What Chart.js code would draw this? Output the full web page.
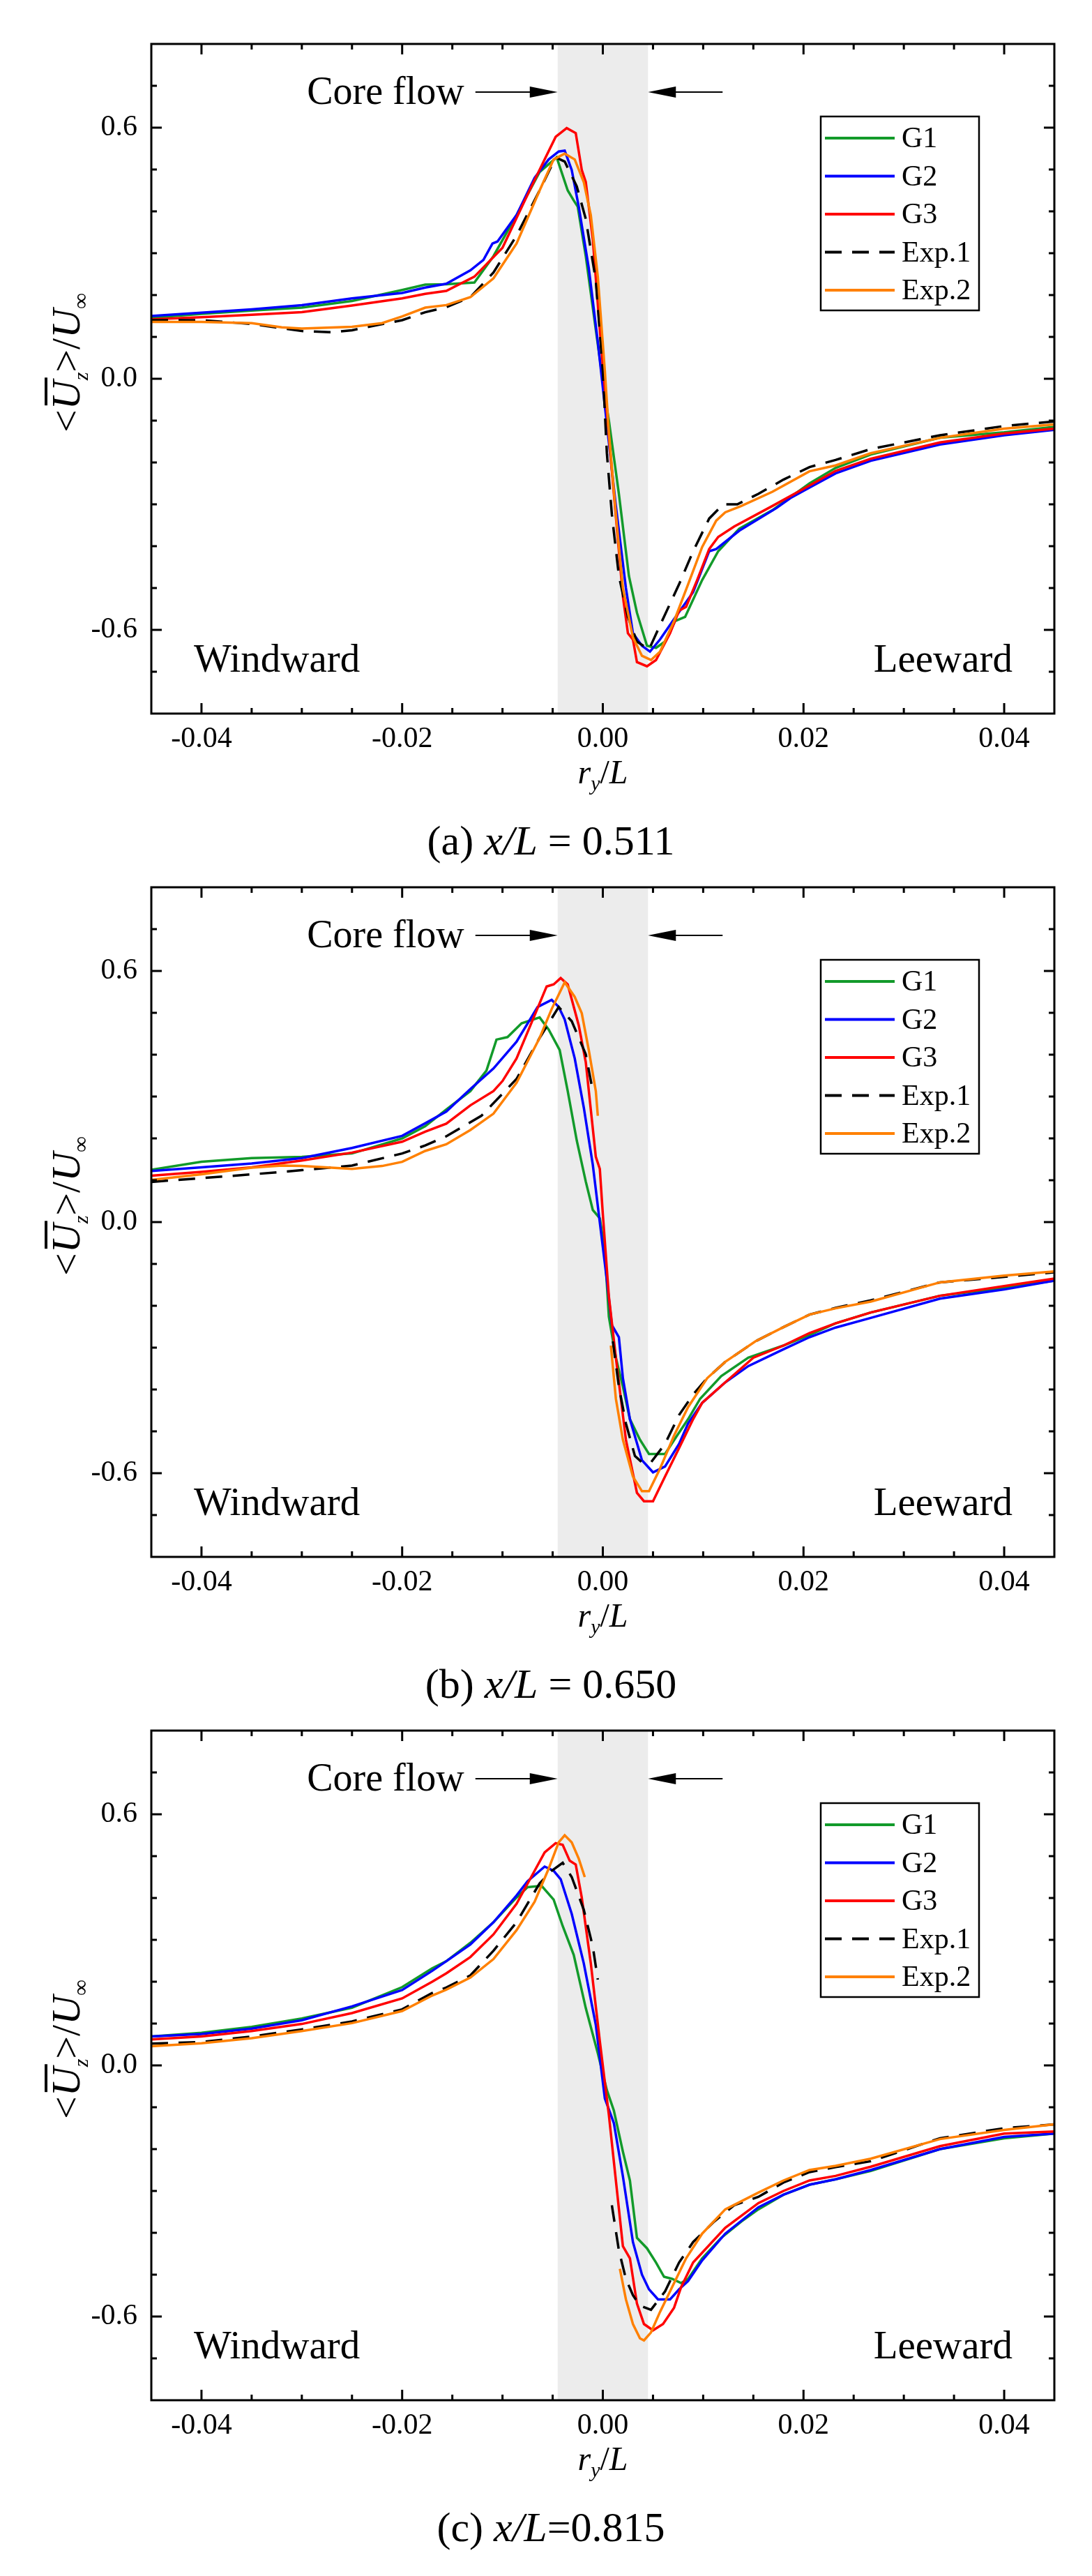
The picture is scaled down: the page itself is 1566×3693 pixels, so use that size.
<!DOCTYPE html>
<html>
<head>
<meta charset="utf-8">
<script src="https://cdn.jsdelivr.net/npm/chart.js@4.4.1/dist/chart.umd.min.js"></script>
<style>
  html, body { margin: 0; padding: 0; background: #fff; }
  #page { position: relative; width: 1566px; height: 3693px; overflow: hidden; }
  canvas { position: absolute; left: 0; }
</style>
</head>
<body>
<div id="page">
  <canvas id="chartA" width="1566" height="1275" style="top:0px"></canvas>
  <canvas id="chartB" width="1566" height="1275" style="top:1209px"></canvas>
  <canvas id="chartC" width="1566" height="1275" style="top:2418px"></canvas>
</div>
<script>
// ---- data: [r_y/L, <Uz>/Uinf]; null breaks a line ----
const aG1 = [[-0.045,0.146],[-0.04,0.155],[-0.035,0.163],[-0.03,0.170],[-0.025,0.186],[-0.02,0.212],[-0.0177,0.225],[-0.0156,0.226],[-0.0128,0.230],[-0.0109,0.293],[-0.0086,0.391],[-0.0063,0.494],[-0.0046,0.529],[-0.0035,0.450],[-0.0029,0.426],[-0.0025,0.411],[-0.0017,0.293],[-0.0007,0.117],[0.0002,-0.040],[0.0006,-0.099],[0.0016,-0.275],[0.0026,-0.471],[0.0034,-0.559],[0.0044,-0.638],[0.0053,-0.643],[0.0062,-0.628],[0.0072,-0.579],[0.0082,-0.569],[0.0099,-0.481],[0.0115,-0.412],[0.0136,-0.358],[0.0169,-0.314],[0.0206,-0.250],[0.0232,-0.213],[0.0267,-0.181],[0.0336,-0.141],[0.04,-0.128],[0.045,-0.115]];
const aG2 = [[-0.045,0.150],[-0.04,0.158],[-0.035,0.166],[-0.03,0.176],[-0.025,0.192],[-0.02,0.205],[-0.0177,0.218],[-0.0156,0.227],[-0.0132,0.259],[-0.0119,0.284],[-0.011,0.323],[-0.0105,0.328],[-0.0086,0.391],[-0.0068,0.480],[-0.0054,0.524],[-0.0044,0.543],[-0.0038,0.545],[-0.0031,0.499],[-0.0024,0.411],[-0.0014,0.264],[-0.0005,0.088],[0.0004,-0.108],[0.0013,-0.304],[0.0023,-0.500],[0.003,-0.608],[0.0039,-0.638],[0.0047,-0.652],[0.0057,-0.623],[0.0071,-0.574],[0.009,-0.510],[0.0106,-0.412],[0.0113,-0.407],[0.0136,-0.363],[0.0173,-0.309],[0.0187,-0.285],[0.0206,-0.260],[0.0232,-0.226],[0.0267,-0.196],[0.0336,-0.157],[0.04,-0.135],[0.045,-0.122]];
const aG3 = [[-0.045,0.142],[-0.04,0.147],[-0.035,0.153],[-0.03,0.159],[-0.025,0.175],[-0.02,0.192],[-0.0177,0.203],[-0.0156,0.210],[-0.0128,0.244],[-0.01,0.313],[-0.0075,0.440],[-0.0058,0.524],[-0.0047,0.578],[-0.0036,0.599],[-0.0027,0.587],[-0.0021,0.499],[-0.0017,0.470],[-0.001,0.333],[-0.0003,0.117],[0.0004,-0.079],[0.0011,-0.275],[0.002,-0.520],[0.0025,-0.608],[0.003,-0.623],[0.0034,-0.677],[0.0044,-0.687],[0.0053,-0.672],[0.0067,-0.608],[0.0076,-0.554],[0.0083,-0.545],[0.0094,-0.481],[0.0106,-0.407],[0.0115,-0.378],[0.0131,-0.353],[0.0169,-0.304],[0.0206,-0.255],[0.0232,-0.220],[0.0267,-0.191],[0.0336,-0.152],[0.04,-0.131],[0.045,-0.119]];
const aE1 = [[-0.045,0.140],[-0.04,0.140],[-0.035,0.131],[-0.03,0.114],[-0.027,0.111],[-0.025,0.116],[-0.02,0.140],[-0.0177,0.159],[-0.0156,0.171],[-0.0132,0.195],[-0.0109,0.254],[-0.0086,0.342],[-0.0063,0.450],[-0.0047,0.529],[-0.0038,0.519],[-0.0026,0.460],[-0.0017,0.382],[-0.0007,0.235],[0,0.019],[0.0004,-0.177],[0.0009,-0.324],[0.0016,-0.471],[0.0025,-0.569],[0.0034,-0.628],[0.0046,-0.647],[0.0057,-0.589],[0.0076,-0.491],[0.009,-0.412],[0.0106,-0.334],[0.012,-0.300],[0.0134,-0.300],[0.0155,-0.275],[0.018,-0.241],[0.0206,-0.211],[0.0232,-0.194],[0.0267,-0.168],[0.0336,-0.135],[0.04,-0.113],[0.045,-0.102]];
const aE2 = [[-0.045,0.136],[-0.04,0.136],[-0.035,0.133],[-0.032,0.123],[-0.03,0.120],[-0.025,0.124],[-0.022,0.133],[-0.02,0.149],[-0.0177,0.170],[-0.0156,0.176],[-0.0132,0.195],[-0.0109,0.240],[-0.0086,0.323],[-0.0063,0.450],[-0.0049,0.524],[-0.0038,0.538],[-0.0028,0.524],[-0.0019,0.470],[-0.0012,0.391],[-0.0005,0.244],[0.0002,0.019],[0.0006,-0.128],[0.0013,-0.324],[0.002,-0.500],[0.003,-0.618],[0.0039,-0.662],[0.0048,-0.672],[0.0057,-0.652],[0.0071,-0.579],[0.0085,-0.491],[0.0099,-0.402],[0.0113,-0.339],[0.0122,-0.319],[0.0138,-0.304],[0.0169,-0.270],[0.0206,-0.221],[0.0232,-0.207],[0.0267,-0.178],[0.0336,-0.141],[0.04,-0.119],[0.045,-0.109]];

const bG1 = [[-0.045,0.125],[-0.04,0.144],[-0.035,0.153],[-0.03,0.156],[-0.025,0.164],[-0.02,0.200],[-0.0177,0.229],[-0.0156,0.269],[-0.0132,0.313],[-0.0116,0.362],[-0.0106,0.436],[-0.0095,0.442],[-0.0081,0.475],[-0.0063,0.489],[-0.0054,0.460],[-0.0043,0.411],[-0.0035,0.313],[-0.0026,0.195],[-0.0017,0.097],[-0.001,0.029],[-0.0003,0.009],[0.0002,-0.069],[0.0006,-0.226],[0.0013,-0.324],[0.002,-0.393],[0.0027,-0.471],[0.0037,-0.520],[0.0046,-0.554],[0.0062,-0.554],[0.0074,-0.510],[0.0085,-0.471],[0.0097,-0.422],[0.0118,-0.368],[0.0145,-0.324],[0.018,-0.295],[0.0206,-0.270],[0.0232,-0.242],[0.0267,-0.216],[0.0336,-0.176],[0.04,-0.157],[0.045,-0.140]];
const bG2 = [[-0.045,0.122],[-0.04,0.131],[-0.035,0.140],[-0.03,0.153],[-0.025,0.177],[-0.02,0.206],[-0.0177,0.236],[-0.0156,0.264],[-0.0132,0.318],[-0.0109,0.367],[-0.0086,0.431],[-0.0065,0.514],[-0.0051,0.531],[-0.0044,0.514],[-0.0038,0.484],[-0.0028,0.391],[-0.0019,0.274],[-0.001,0.137],[-0.0003,-0.001],[0.0004,-0.138],[0.0009,-0.246],[0.0016,-0.275],[0.002,-0.373],[0.0027,-0.471],[0.0039,-0.569],[0.005,-0.598],[0.0062,-0.584],[0.0076,-0.530],[0.0085,-0.481],[0.0099,-0.432],[0.0122,-0.383],[0.0145,-0.344],[0.018,-0.304],[0.0206,-0.275],[0.0232,-0.252],[0.0267,-0.229],[0.0336,-0.183],[0.04,-0.161],[0.045,-0.140]];
const bG3 = [[-0.045,0.111],[-0.04,0.120],[-0.035,0.131],[-0.03,0.147],[-0.025,0.166],[-0.02,0.192],[-0.0177,0.216],[-0.0156,0.235],[-0.0132,0.279],[-0.0109,0.313],[-0.01,0.337],[-0.0086,0.391],[-0.0068,0.494],[-0.0056,0.563],[-0.0049,0.568],[-0.0042,0.583],[-0.0035,0.568],[-0.0024,0.470],[-0.0017,0.382],[-0.0007,0.156],[-0.0003,0.127],[0,0.019],[0.0006,-0.177],[0.0013,-0.324],[0.0023,-0.520],[0.0034,-0.647],[0.0041,-0.667],[0.005,-0.667],[0.0062,-0.608],[0.0076,-0.540],[0.009,-0.471],[0.0099,-0.432],[0.0122,-0.383],[0.015,-0.324],[0.018,-0.295],[0.0206,-0.265],[0.0232,-0.242],[0.0267,-0.216],[0.0336,-0.176],[0.04,-0.153],[0.045,-0.135]];
const bE1 = [[-0.045,0.096],[-0.04,0.105],[-0.035,0.114],[-0.03,0.124],[-0.025,0.135],[-0.02,0.164],[-0.0177,0.183],[-0.0156,0.205],[-0.0121,0.254],[-0.0086,0.342],[-0.0063,0.440],[-0.0044,0.514],[-0.0031,0.480],[-0.0017,0.401],[-0.001,0.313],[0,null],[0.001,-0.285],[0.0016,-0.393],[0.0023,-0.481],[0.0032,-0.559],[0.0039,-0.574],[0.0048,-0.574],[0.0062,-0.530],[0.0076,-0.461],[0.009,-0.412],[0.0104,-0.373],[0.0122,-0.334],[0.0152,-0.285],[0.018,-0.251],[0.0206,-0.221],[0.0232,-0.205],[0.0267,-0.187],[0.0336,-0.144],[0.04,-0.131],[0.045,-0.120]];
const bE2 = [[-0.045,0.101],[-0.04,0.114],[-0.035,0.130],[-0.032,0.135],[-0.03,0.134],[-0.025,0.127],[-0.022,0.134],[-0.02,0.144],[-0.0177,0.170],[-0.0156,0.186],[-0.0132,0.220],[-0.0109,0.259],[-0.0086,0.333],[-0.0063,0.440],[-0.0051,0.509],[-0.0038,0.573],[-0.0028,0.538],[-0.0021,0.499],[-0.0014,0.411],[-0.0007,0.313],[-0.0005,0.254],[0.0001,null],[0.0008,-0.295],[0.0013,-0.422],[0.002,-0.520],[0.003,-0.608],[0.0039,-0.643],[0.0046,-0.643],[0.0057,-0.589],[0.0071,-0.510],[0.0085,-0.442],[0.0104,-0.373],[0.0122,-0.334],[0.0152,-0.285],[0.018,-0.251],[0.0206,-0.221],[0.0232,-0.206],[0.0267,-0.190],[0.0336,-0.144],[0.04,-0.128],[0.045,-0.118]];

const cG1 = [[-0.045,0.069],[-0.04,0.078],[-0.035,0.092],[-0.03,0.112],[-0.025,0.138],[-0.02,0.187],[-0.017,0.232],[-0.0156,0.249],[-0.0132,0.293],[-0.0109,0.342],[-0.0086,0.401],[-0.0075,0.426],[-0.0061,0.429],[-0.0049,0.396],[-0.004,0.333],[-0.0029,0.264],[-0.0017,0.137],[-0.0005,0.029],[0.0004,-0.059],[0.0011,-0.108],[0.002,-0.206],[0.0027,-0.275],[0.0034,-0.412],[0.0044,-0.437],[0.0053,-0.471],[0.0061,-0.505],[0.0069,-0.510],[0.0078,-0.520],[0.0085,-0.510],[0.0099,-0.461],[0.0118,-0.412],[0.0138,-0.373],[0.0155,-0.344],[0.018,-0.309],[0.0206,-0.285],[0.0232,-0.272],[0.0267,-0.252],[0.0336,-0.200],[0.04,-0.174],[0.045,-0.163]];
const cG2 = [[-0.045,0.069],[-0.04,0.075],[-0.035,0.088],[-0.03,0.108],[-0.025,0.141],[-0.02,0.180],[-0.017,0.226],[-0.0156,0.249],[-0.0132,0.289],[-0.0109,0.342],[-0.0086,0.406],[-0.0075,0.440],[-0.0058,0.475],[-0.0049,0.465],[-0.0042,0.445],[-0.0031,0.362],[-0.0019,0.244],[-0.0007,0.097],[0.0002,-0.079],[0.0011,-0.138],[0.002,-0.265],[0.003,-0.422],[0.0039,-0.500],[0.0046,-0.535],[0.0055,-0.559],[0.0067,-0.559],[0.0076,-0.535],[0.0085,-0.515],[0.0099,-0.466],[0.0122,-0.402],[0.0155,-0.339],[0.018,-0.309],[0.0206,-0.285],[0.0232,-0.272],[0.0267,-0.250],[0.0336,-0.200],[0.04,-0.171],[0.045,-0.163]];
const cG3 = [[-0.045,0.062],[-0.04,0.069],[-0.035,0.082],[-0.03,0.099],[-0.025,0.125],[-0.02,0.160],[-0.017,0.200],[-0.0156,0.220],[-0.0132,0.259],[-0.0109,0.313],[-0.0086,0.386],[-0.0068,0.465],[-0.0058,0.509],[-0.0047,0.531],[-0.004,0.527],[-0.0033,0.489],[-0.0027,0.480],[-0.0021,0.401],[-0.0012,0.244],[-0.0003,0.058],[0.0006,-0.118],[0.0013,-0.275],[0.002,-0.432],[0.0027,-0.461],[0.0034,-0.569],[0.0041,-0.618],[0.005,-0.633],[0.006,-0.618],[0.0071,-0.579],[0.0078,-0.530],[0.009,-0.471],[0.0122,-0.388],[0.0155,-0.329],[0.018,-0.300],[0.0206,-0.275],[0.0232,-0.264],[0.0267,-0.242],[0.0336,-0.193],[0.04,-0.163],[0.045,-0.158]];
const cE1 = [[-0.045,0.052],[-0.04,0.056],[-0.035,0.069],[-0.03,0.086],[-0.025,0.105],[-0.02,0.134],[-0.017,0.173],[-0.0156,0.186],[-0.0132,0.215],[-0.0109,0.274],[-0.0086,0.342],[-0.0063,0.435],[-0.0051,0.465],[-0.004,0.484],[-0.0031,0.450],[-0.0019,0.372],[-0.001,0.284],[-0.0005,0.205],[0.0002,null],[0.0009,-0.334],[0.0016,-0.442],[0.0023,-0.510],[0.003,-0.549],[0.0037,-0.574],[0.0048,-0.584],[0.0062,-0.540],[0.0076,-0.471],[0.009,-0.422],[0.0111,-0.373],[0.0131,-0.334],[0.0155,-0.314],[0.018,-0.280],[0.0206,-0.255],[0.0232,-0.243],[0.0267,-0.229],[0.0336,-0.174],[0.04,-0.150],[0.045,-0.141]];
const cE2 = [[-0.045,0.046],[-0.04,0.053],[-0.035,0.065],[-0.03,0.082],[-0.025,0.101],[-0.02,0.130],[-0.017,0.167],[-0.0156,0.181],[-0.0132,0.210],[-0.0109,0.254],[-0.0086,0.323],[-0.0068,0.391],[-0.0054,0.470],[-0.0044,0.533],[-0.0038,0.550],[-0.0031,0.533],[-0.0024,0.494],[-0.0018,0.450],[-0.001,null],[0.0017,-0.486],[0.0023,-0.559],[0.003,-0.618],[0.0037,-0.652],[0.0041,-0.657],[0.0048,-0.638],[0.0057,-0.589],[0.0069,-0.530],[0.0083,-0.461],[0.0099,-0.402],[0.0122,-0.344],[0.0155,-0.304],[0.018,-0.275],[0.0206,-0.250],[0.0232,-0.240],[0.0267,-0.223],[0.0336,-0.176],[0.04,-0.154],[0.045,-0.141]];

const seriesNames = ['G1', 'G2', 'G3', 'Exp.1', 'Exp.2'];
const xMajorTicks = [-0.04, -0.02, 0, 0.02, 0.04];
const yMajorTicks = [-0.6, 0, 0.6];
const coreBand = [-0.0045, 0.0045];
const captions = [
  ['(a) ', 'x/L', ' = 0.511'],
  ['(b) ', 'x/L', ' = 0.650'],
  ['(c) ', 'x/L', '=0.815']
];

// ---- styles ----
const FONT = "'Liberation Serif', 'Times New Roman', serif";
const colors = ['#129a2a', '#0000ff', '#ff0000', '#000000', '#ff8000'];
const dashes = [[], [], [], [24, 15], [], []];

Chart.defaults.color = '#000';
Chart.defaults.font.family = FONT;

function runs(ctx, parts, x, y, align) {
  let w = 0;
  parts.forEach(p => { ctx.font = p.f; p.w = ctx.measureText(p.t).width; w += p.w; });
  let cx = align === 'center' ? x - w / 2 : x;
  parts.forEach(p => {
    ctx.font = p.f;
    ctx.fillText(p.t, cx, y + (p.dy || 0));
    p.x = cx;
    cx += p.w;
  });
  return parts;
}

const decor = {
  id: 'decor',
  beforeDatasetsDraw(chart) {
    const { ctx, chartArea: a, scales: { x } } = chart;
    const x0 = x.getPixelForValue(coreBand[0]);
    const x1 = x.getPixelForValue(coreBand[1]);
    ctx.save();
    ctx.fillStyle = '#ececec';
    ctx.fillRect(x0, a.top, x1 - x0, a.bottom - a.top);
    ctx.restore();
  },
  afterDatasetsDraw(chart, args, opts) {
    const { ctx, chartArea: a, scales: { x, y } } = chart;
    ctx.save();
    ctx.strokeStyle = '#000';
    ctx.fillStyle = '#000';

    // frame + inward ticks on all four sides
    ctx.lineWidth = 3;
    ctx.strokeRect(a.left, a.top, a.right - a.left, a.bottom - a.top);
    ctx.beginPath();
    for (let k = -8; k <= 8; k++) {
      const px = x.getPixelForValue(k * 0.005);
      const len = k % 4 === 0 ? 15 : 8;
      ctx.moveTo(px, a.bottom); ctx.lineTo(px, a.bottom - len);
      ctx.moveTo(px, a.top); ctx.lineTo(px, a.top + len);
    }
    for (let k = -7; k <= 7; k++) {
      const py = y.getPixelForValue(k * 0.1);
      const len = k % 6 === 0 ? 15 : 8;
      ctx.moveTo(a.left, py); ctx.lineTo(a.left + len, py);
      ctx.moveTo(a.right, py); ctx.lineTo(a.right - len, py);
    }
    ctx.stroke();

    // core flow annotation
    const xl = x.getPixelForValue(coreBand[0]);
    const xr = x.getPixelForValue(coreBand[1]);
    const ay = a.top + 69;
    ctx.font = `56px ${FONT}`;
    ctx.textAlign = 'right';
    ctx.textBaseline = 'alphabetic';
    ctx.fillText('Core flow', xl - 134, a.top + 86);
    ctx.lineWidth = 2;
    ctx.beginPath();
    ctx.moveTo(xl - 118, ay); ctx.lineTo(xl - 30, ay);
    ctx.moveTo(xr + 30, ay); ctx.lineTo(xr + 107, ay);
    ctx.stroke();
    ctx.beginPath();
    ctx.moveTo(xl, ay); ctx.lineTo(xl - 40, ay - 8); ctx.lineTo(xl - 40, ay + 8); ctx.closePath();
    ctx.moveTo(xr, ay); ctx.lineTo(xr + 40, ay - 8); ctx.lineTo(xr + 40, ay + 8); ctx.closePath();
    ctx.fill();

    // windward / leeward
    ctx.font = `57px ${FONT}`;
    ctx.textAlign = 'left';
    ctx.fillText('Windward', a.left + 61, a.bottom - 60);
    ctx.textAlign = 'right';
    ctx.fillText('Leeward', a.right - 60, a.bottom - 60);

    // legend
    const lx = a.right - 335, ly = a.top + 104;
    ctx.lineWidth = 2.5;
    ctx.strokeRect(lx, ly, 227, 278);
    ctx.textAlign = 'left';
    ctx.textBaseline = 'middle';
    ctx.font = `42px ${FONT}`;
    chart.data.datasets.forEach((ds, i) => {
      const ry = ly + 31 + i * 54.5;
      ctx.save();
      ctx.strokeStyle = ds.borderColor;
      ctx.lineWidth = 4;
      ctx.setLineDash(ds.borderDash || []);
      ctx.beginPath();
      ctx.moveTo(lx + 6, ry); ctx.lineTo(lx + 106, ry);
      ctx.stroke();
      ctx.restore();
      ctx.fillText(ds.label, lx + 116, ry + 2);
    });
    ctx.restore();
  },
  afterDraw(chart, args, opts) {
    const { ctx, chartArea: a } = chart;
    ctx.save();
    ctx.fillStyle = '#000';
    ctx.textAlign = 'left';
    ctx.textBaseline = 'alphabetic';

    // y axis title, rotated: <U_z>/U_inf with overbar on first U
    ctx.save();
    ctx.translate(114, a.top + 457);
    ctx.rotate(-Math.PI / 2);
    const yt = runs(ctx, [
      { t: '<', f: `58px ${FONT}` },
      { t: 'U', f: `italic 58px ${FONT}` },
      { t: 'z', f: `italic 30px ${FONT}`, dy: 12 },
      { t: '>', f: `58px ${FONT}` },
      { t: '/', f: `58px ${FONT}` },
      { t: 'U', f: `italic 58px ${FONT}` },
      { t: '\u221e', f: `32px ${FONT}`, dy: 12 }
    ], 0, 0, 'center');
    ctx.fillRect(yt[1].x + 6, -50, yt[1].w - 2, 4);
    ctx.restore();

    // x axis title r_y/L
    runs(ctx, [
      { t: 'r', f: `italic 48px ${FONT}` },
      { t: 'y', f: `italic 30px ${FONT}`, dy: 10 },
      { t: '/', f: `48px ${FONT}` },
      { t: 'L', f: `italic 48px ${FONT}` }
    ], (a.left + a.right) / 2, a.bottom + 100, 'center');

    // panel caption
    const c = opts.caption;
    runs(ctx, [
      { t: c[0], f: `60px ${FONT}` },
      { t: c[1], f: `italic 60px ${FONT}` },
      { t: c[2], f: `60px ${FONT}` }
    ], 790, a.bottom + 202, 'center');
    ctx.restore();
  }
};

function makePanel(id, series, caption) {
  const datasets = series.map((pts, i) => ({
    label: seriesNames[i],
    data: pts.map(p => ({ x: p[0], y: p[1] })),
    borderColor: colors[i],
    borderDash: dashes[i],
    borderWidth: 3.5,
    pointRadius: 0,
    tension: 0,
    spanGaps: false,
    order: series.length - i
  }));
  return new Chart(document.getElementById(id), {
    type: 'line',
    data: { datasets },
    plugins: [decor],
    options: {
      responsive: false,
      animation: false,
      devicePixelRatio: 1,
      events: [],
      layout: { padding: { top: 63, right: 54, bottom: 0, left: 0 } },
      plugins: {
        legend: { display: false },
        tooltip: { enabled: false },
        decor: { caption }
      },
      scales: {
        x: {
          type: 'linear',
          min: -0.045,
          max: 0.045,
          grid: { display: false, drawTicks: false },
          border: { display: false },
          ticks: {
            autoSkip: false,
            maxRotation: 0,
            padding: 12,
            font: { size: 42, family: FONT },
            callback: v => v.toFixed(2)
          },
          afterBuildTicks: s => { s.ticks = xMajorTicks.map(v => ({ value: v })); },
          afterFit: s => { s.height = 252; }
        },
        y: {
          type: 'linear',
          min: -0.8,
          max: 0.8,
          grid: { display: false, drawTicks: false },
          border: { display: false },
          ticks: {
            autoSkip: false,
            padding: 20,
            font: { size: 42, family: FONT },
            callback: v => v.toFixed(1)
          },
          afterBuildTicks: s => { s.ticks = yMajorTicks.map(v => ({ value: v })); },
          afterFit: s => { s.width = 217; }
        }
      }
    }
  });
}

makePanel('chartA', [aG1, aG2, aG3, aE1, aE2], captions[0]);
makePanel('chartB', [bG1, bG2, bG3, bE1, bE2], captions[1]);
makePanel('chartC', [cG1, cG2, cG3, cE1, cE2], captions[2]);
</script>
</body>
</html>
